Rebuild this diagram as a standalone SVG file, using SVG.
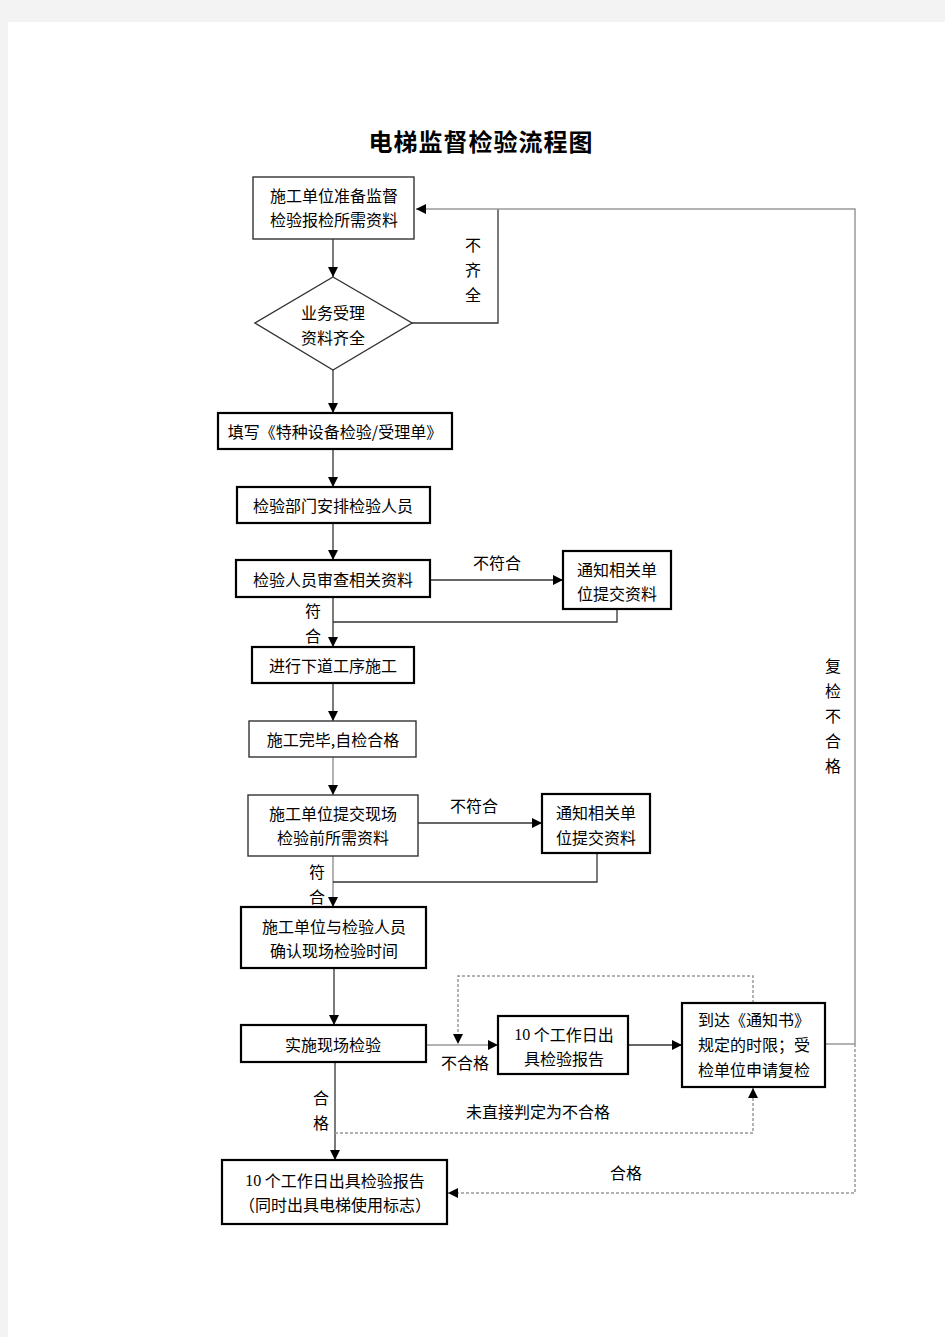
<svg xmlns="http://www.w3.org/2000/svg" width="945" height="1337" viewBox="0 0 945 1337">
<defs>
<style>
.t{font-family:"Noto Sans CJK SC","Noto Sans CJK JP",sans-serif;font-size:16px;fill:#000;text-anchor:middle;dominant-baseline:central}
.n{font-family:"Liberation Serif","Noto Sans CJK SC",serif}
.thick{fill:#fff;stroke:#000;stroke-width:2.2}
.thin{fill:#fff;stroke:#333;stroke-width:1.4}
.c{fill:none;stroke:#333;stroke-width:1.3}
.g{fill:none;stroke:#999;stroke-width:1.5}
.d{fill:none;stroke:#999;stroke-width:1.5;stroke-dasharray:3 2}
</style>
<marker id="ah" viewBox="0 0 10 10" refX="10" refY="5" markerWidth="10" markerHeight="10" markerUnits="userSpaceOnUse" orient="auto">
<path d="M0,0 L10,5 L0,10 z" fill="#000"/>
</marker>
</defs>
<rect x="0" y="0" width="945" height="1337" fill="#f3f3f3"/>
<rect x="8" y="22" width="937" height="1315" fill="#fff"/>
<text x="481" y="140" style="font-family:'Noto Sans CJK SC',serif;font-size:24px;font-weight:bold;letter-spacing:1px;text-anchor:middle;dominant-baseline:central">电梯监督检验流程图</text>

<g id="connectors">
<line class="c" x1="333" y1="239" x2="333" y2="277" marker-end="url(#ah)"/>
<polyline class="c" points="412,323 498,323 498,209"/>
<polyline class="g" points="855,1044 855,209 416,209" marker-end="url(#ah)"/>
<line class="g" x1="825" y1="1044" x2="855" y2="1044"/>
<line class="c" x1="333" y1="370" x2="333" y2="413" marker-end="url(#ah)"/>
<line class="c" x1="333" y1="449" x2="333" y2="487" marker-end="url(#ah)"/>
<line class="c" x1="333" y1="523" x2="333" y2="560" marker-end="url(#ah)"/>
<line class="c" x1="430" y1="580" x2="563" y2="580" marker-end="url(#ah)"/>
<line class="c" x1="333" y1="597" x2="333" y2="647" marker-end="url(#ah)"/>
<polyline class="c" points="617,609 617,622 333,622"/>
<line class="c" x1="333" y1="683" x2="333" y2="721" marker-end="url(#ah)"/>
<line class="g" x1="333" y1="757" x2="333" y2="795" marker-end="url(#ah)"/>
<line class="c" x1="418" y1="823" x2="542" y2="823" marker-end="url(#ah)"/>
<line class="g" x1="333" y1="856" x2="333" y2="907" marker-end="url(#ah)"/>
<polyline class="c" points="597,853 597,882 333,882"/>
<line class="c" x1="334" y1="968" x2="334" y2="1025" marker-end="url(#ah)"/>
<line class="g" x1="426" y1="1045" x2="498" y2="1045" marker-end="url(#ah)"/>
<line class="c" x1="628" y1="1045" x2="682" y2="1045" marker-end="url(#ah)"/>
<line class="c" x1="335" y1="1062" x2="335" y2="1160" marker-end="url(#ah)"/>
<polyline class="d" points="753,1003 753,976 458,976 458,1044" marker-end="url(#ah)"/>
<polyline class="d" points="335,1133 753,1133 753,1088" marker-end="url(#ah)"/>
<polyline class="d" points="855,1044 855,1193 448,1193" marker-end="url(#ah)"/>
</g>

<g id="labels">
<text class="t" x="473" y="244">不</text>
<text class="t" x="473" y="269">齐</text>
<text class="t" x="473" y="294">全</text>
<text class="t" x="497" y="562">不符合</text>
<text class="t" x="313" y="610">符</text>
<text class="t" x="313" y="635">合</text>
<text class="t" x="474" y="805">不符合</text>
<text class="t" x="317" y="871">符</text>
<text class="t" x="317" y="896">合</text>
<text class="t" x="465" y="1062">不合格</text>
<text class="t" x="321" y="1097">合</text>
<text class="t" x="321" y="1122">格</text>
<text class="t" x="538" y="1111">未直接判定为不合格</text>
<text class="t" x="626" y="1172">合格</text>
<text class="t" x="833" y="665">复</text>
<text class="t" x="833" y="690">检</text>
<text class="t" x="833" y="715">不</text>
<text class="t" x="833" y="740">合</text>
<text class="t" x="833" y="765">格</text>
</g>

<g id="n1"><rect class="thin" x="253" y="177" width="161" height="62"/>
<text class="t" x="334" y="195">施工单位准备监督</text><text class="t" x="334" y="219">检验报检所需资料</text></g>
<g id="n2"><polygon class="thin" points="333,277 412,323 333,370 255,323"/>
<text class="t" x="333" y="312">业务受理</text><text class="t" x="333" y="337">资料齐全</text></g>
<g id="n3"><rect class="thick" x="218" y="413" width="234" height="36"/>
<text class="t" x="335" y="431">填写《特种设备检验/受理单》</text></g>
<g id="n4"><rect class="thick" x="237" y="487" width="193" height="36"/>
<text class="t" x="333" y="505">检验部门安排检验人员</text></g>
<g id="n5"><rect class="thick" x="236" y="560" width="194" height="37"/>
<text class="t" x="333" y="579">检验人员审查相关资料</text></g>
<g id="n6"><rect class="thick" x="563" y="551" width="108" height="58"/>
<text class="t" x="617" y="569">通知相关单</text><text class="t" x="617" y="593">位提交资料</text></g>
<g id="n7"><rect class="thick" x="252" y="647" width="162" height="36"/>
<text class="t" x="333" y="665">进行下道工序施工</text></g>
<g id="n8"><rect class="thin" x="249" y="721" width="167" height="36"/>
<text class="t" x="333" y="739">施工完毕,自检合格</text></g>
<g id="n9"><rect class="thin" x="248" y="795" width="170" height="61"/>
<text class="t" x="333" y="813">施工单位提交现场</text><text class="t" x="333" y="837">检验前所需资料</text></g>
<g id="n10"><rect class="thick" x="542" y="794" width="108" height="59"/>
<text class="t" x="596" y="812">通知相关单</text><text class="t" x="596" y="837">位提交资料</text></g>
<g id="n11"><rect class="thick" x="241" y="907" width="185" height="61"/>
<text class="t" x="334" y="926">施工单位与检验人员</text><text class="t" x="334" y="950">确认现场检验时间</text></g>
<g id="n12"><rect class="thick" x="241" y="1025" width="185" height="37"/>
<text class="t" x="333" y="1044">实施现场检验</text></g>
<g id="n13"><rect class="thick" x="498" y="1016" width="130" height="58"/>
<text class="t" x="564" y="1034"><tspan class="n">10</tspan> 个工作日出</text><text class="t" x="564" y="1058">具检验报告</text></g>
<g id="n14"><rect class="thick" x="682" y="1003" width="143" height="84"/>
<text class="t" x="754" y="1019">到达《通知书》</text><text class="t" x="754" y="1044">规定的时限；受</text><text class="t" x="754" y="1069">检单位申请复检</text></g>
<g id="n15"><rect class="thick" x="222" y="1160" width="225" height="64"/>
<text class="t" x="335" y="1180"><tspan class="n">10</tspan> 个工作日出具检验报告</text><text class="t" x="335" y="1204">（同时出具电梯使用标志）</text></g>
</svg>
